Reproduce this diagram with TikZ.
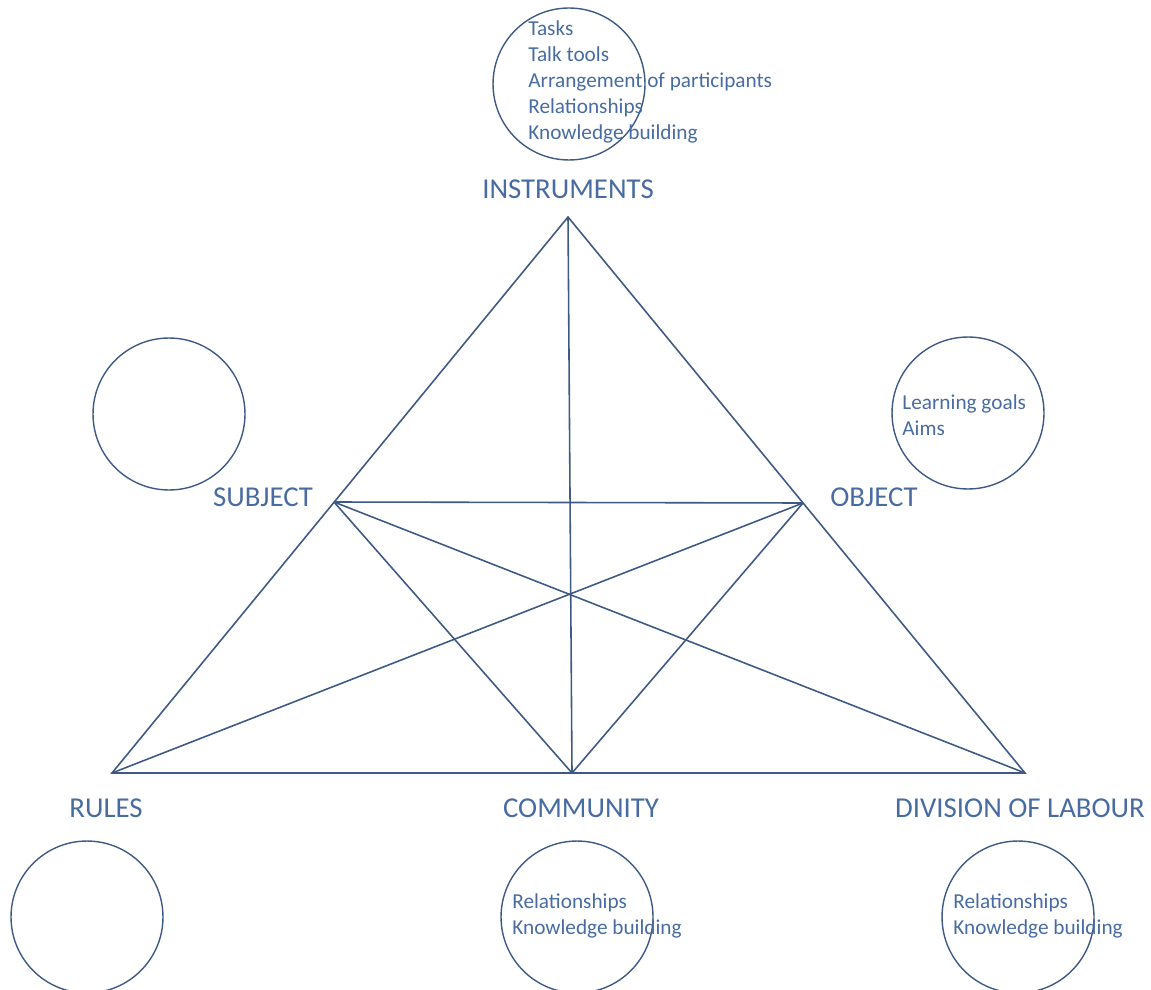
\documentclass[tikz,border=0pt]{standalone}
\usepackage{fontspec}
\setmainfont{Carlito}
\usepackage{xcolor}
\usetikzlibrary{positioning}

\definecolor{lineblue}{RGB}{62,90,132}
\definecolor{textblue}{RGB}{72,108,162}

\begin{document}
\begin{tikzpicture}[
    x=0.02cm, y=-0.02cm,
    corner/.style={font=\fontsize{16.4}{19}\selectfont, text=textblue, inner sep=0pt},
    bubble/.style={draw=lineblue, line width=0.8pt, circle, minimum size=3.04cm, inner sep=0pt},
    bubbletext/.style={font=\fontsize{12.1}{14.7}\selectfont, text=textblue, align=left, anchor=west, inner sep=0pt},
    edge/.style={draw=lineblue, line width=0.9pt},
]
\useasboundingbox (0,0) rectangle (1151,989);

% Vertices
\coordinate (instr) at (568,217);
\coordinate (subj) at (334,502);
\coordinate (obj) at (803,503);
\coordinate (rules) at (112,773);
\coordinate (comm) at (572,773);
\coordinate (div) at (1025,773);

% Outer triangle
\draw[edge] (instr) -- (rules) -- (div) -- cycle;

% Inner lines
\draw[edge] (subj) -- (obj);
\draw[edge] (instr) -- (comm);
\foreach \a/\b in {subj/div, subj/comm, obj/rules, obj/comm} {
    \draw[edge] (\a) -- (\b);
}

% Labels
\node[corner] (linstr) at (568,189) {INSTRUMENTS};
\node[corner] (lsubj) at (263,497) {SUBJECT};
\node[corner] (lobj) at (874,497) {OBJECT};
\node[corner] (lrules) at (106,808) {RULES};
\node[corner] (lcomm) at (581,808) {COMMUNITY};
\node[corner] (ldiv) at (1020,808) {DIVISION OF LABOUR};

% Circles
\node[bubble] (cinstr) at (569,84) {};
\node[bubble] (csubj) at (169,414) {};
\node[bubble] (cobj) at (968,413) {};
\node[bubble] (crules) at (87,917) {};
\node[bubble] (ccomm) at (577,917) {};
\node[bubble] (cdiv) at (1018,917) {};

% Circle texts
\node[bubbletext] (tinstr) at (528,82) {Tasks\\Talk tools\\Arrangement of participants\\Relationships\\Knowledge building};
\node[bubbletext] (tobj) at (902,415) {Learning goals\\Aims};
\node[bubbletext] (tcomm) at (512,916) {Relationships\\Knowledge building};
\node[bubbletext] (tdiv) at (953,916) {Relationships\\Knowledge building};

\end{tikzpicture}
\end{document}
